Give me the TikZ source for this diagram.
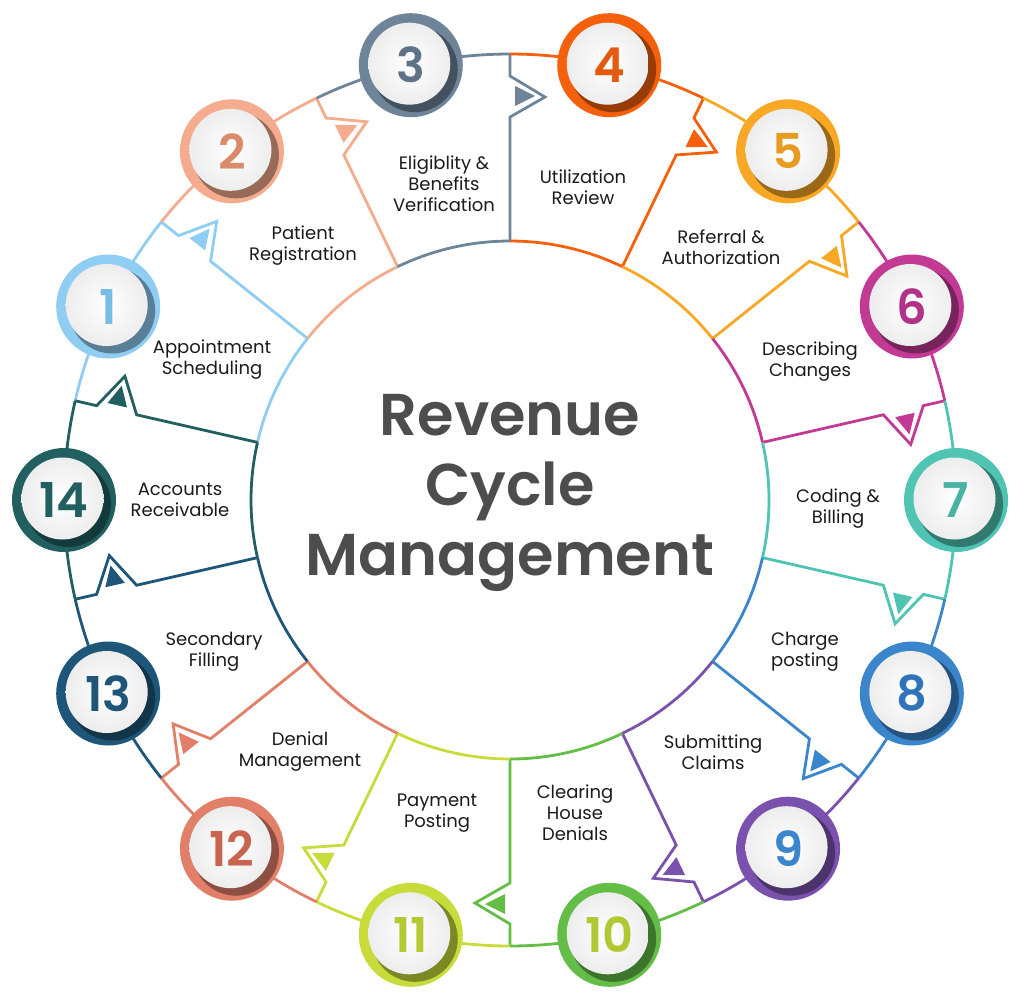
\documentclass[tikz,border=0pt]{standalone}
\usepackage{fontspec}
\setmainfont{Poppins}
\IfFontExistsTF{Poppins SemiBold}{\newfontfamily\popsemi{Poppins SemiBold}}{\newcommand\popsemi{\bfseries}}
\usetikzlibrary{calc}
\definecolor{c1}{HTML}{8FCDF2}
\definecolor{c2}{HTML}{F5AC8E}
\definecolor{c3}{HTML}{6E8499}
\definecolor{c4}{HTML}{F4600C}
\definecolor{c5}{HTML}{F9A825}
\definecolor{c6}{HTML}{C23A94}
\definecolor{c7}{HTML}{4FC4B3}
\definecolor{c8}{HTML}{3A85CC}
\definecolor{c9}{HTML}{7A52AE}
\definecolor{c10}{HTML}{63BD47}
\definecolor{c11}{HTML}{C7DC3B}
\definecolor{c12}{HTML}{E27F68}
\definecolor{c13}{HTML}{1D5678}
\definecolor{c14}{HTML}{215F61}
\definecolor{n1}{HTML}{78BDE6}
\definecolor{n2}{HTML}{DA8B6C}
\definecolor{n3}{HTML}{5E7388}
\definecolor{n4}{HTML}{E45A0E}
\definecolor{n5}{HTML}{E89B22}
\definecolor{n6}{HTML}{B23287}
\definecolor{n7}{HTML}{47B3A3}
\definecolor{n8}{HTML}{2F74B8}
\definecolor{n9}{HTML}{3A85CC}
\definecolor{n10}{HTML}{B2C833}
\definecolor{n11}{HTML}{B5C932}
\definecolor{n12}{HTML}{C8654F}
\definecolor{n13}{HTML}{1D5678}
\definecolor{n14}{HTML}{215F61}
\definecolor{titlegray}{HTML}{4D4D4D}
\definecolor{labelblack}{HTML}{1A1A1A}
\tikzset{
  seg/.style={line width=2.8pt, line join=miter},
  lbl/.style={align=center, inner sep=0pt, text=labelblack, font=\fontsize{18}{21}\selectfont},
  numtext/.style={inner sep=0pt, font=\popsemi\fontsize{48}{48}\selectfont},
}
\begin{document}
\begin{tikzpicture}[x=1pt,y=-1pt]
\useasboundingbox (0,0) rectangle (1024,1001);
\coordinate (C) at (510,500);
\begin{scope}[shift={(C)}]
\foreach \k in {1,...,14} {
  \pgfmathsetmacro{\bs}{(\k-4)*360/14-90}
  \pgfmathsetmacro{\be}{(\k-3)*360/14-90}
  \draw[seg, c\k] plot[domain=\bs:\be, samples=30] ({259*cos(\x)},{259*sin(\x)});
  \draw[seg, c\k] plot[domain=\bs:\be, samples=40] ({446*cos(\x)},{446*sin(\x)});
  \draw[seg, c\k] (\be:259) -- (\be:383) -- ($(\be:403)+(\be+90:35)$) -- (\be:424) -- (\be:446);
  \fill[c\k] ($(\be:394)+(\be+90:5)$) -- ($(\be:414)+(\be+90:5)$) -- ($(\be:404)+(\be+90:25)$) -- cycle;
}
\foreach \k in {1,...,14} {
  \pgfmathsetmacro{\a}{(\k-3.5)*360/14-90}
  \fill[c\k] (\a:446) circle[radius=52];
  \fill[c\k!62!black] ($(\a:446)+(4,4)$) circle[radius=43];
  \shade[inner color=white, outer color=black!7] ($(\a:446)+(-1.5,-1.5)$) circle[radius=41];
  \node[numtext, text=n\k] (n\k) at (\a:446) {\k};
}
\end{scope}
\node[align=center, inner sep=0pt, text=titlegray, font=\popsemi\fontsize{59}{70}\selectfont] (title) at (510,493) {Revenue\\Cycle\\Management};
\node[lbl] (l1) at (212,360) {Appointment\\Scheduling};
\node[lbl] (l2) at (303,246) {Patient\\Registration};
\node[lbl] (l3) at (444,184) {Eligiblity \&\\Benefits\\Verification};
\node[lbl] (l4) at (583,187) {Utilization\\Review};
\node[lbl] (l5) at (721,247) {Referral \&\\Authorization};
\node[lbl] (l6) at (810,362) {Describing\\Changes};
\node[lbl] (l7) at (838,509) {Coding \&\\Billing};
\node[lbl] (l8) at (805,652) {Charge\\posting};
\node[lbl] (l9) at (713,752) {Submitting\\Claims};
\node[lbl] (l10) at (575,813) {Clearing\\House\\Denials};
\node[lbl] (l11) at (437,813) {Payment\\Posting};
\node[lbl] (l12) at (300,752) {Denial\\Management};
\node[lbl] (l13) at (214,652) {Secondary\\Filling};
\node[lbl] (l14) at (180,500) {Accounts\\Receivable};
\end{tikzpicture}
\end{document}
